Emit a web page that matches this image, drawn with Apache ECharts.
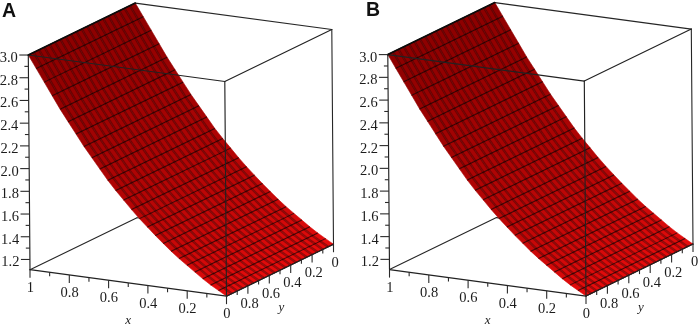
<!DOCTYPE html>
<html>
<head>
<meta charset="utf-8">
<style>html,body{margin:0;padding:0;background:#fff}#c{width:699px;height:327px}</style>
<script src="https://cdn.jsdelivr.net/npm/echarts@6/dist/echarts.min.js"></script>
</head>
<body>
<div id="c"></div>
<script>
// ---- data ----
const xGrid = [0,0.04,0.08,0.12,0.16,0.2,0.24,0.28,0.32,0.36,0.4,0.44,0.48,0.52,0.56,0.6,0.64,0.68,0.72,0.76,0.8,0.84,0.88,0.92,0.96,1];
const yGrid = [0,0.05,0.1,0.15,0.2,0.25,0.3,0.35,0.4,0.45,0.5,0.55,0.6,0.65,0.7,0.75,0.8,0.85,0.9,0.95,1];
const zSurfaceA = [1.11,1.15,1.19,1.235,1.285,1.335,1.385,1.44,1.5,1.56,1.625,1.69,1.76,1.835,1.91,1.99,2.08,2.17,2.26,2.36,2.46,2.56,2.67,2.78,2.89,3.0];
const zSurfaceB = [1.11,1.15,1.19,1.235,1.285,1.335,1.385,1.44,1.5,1.56,1.625,1.69,1.76,1.835,1.91,1.99,2.08,2.17,2.26,2.36,2.46,2.56,2.67,2.78,2.89,3.0];
const xTicks = [1,0.8,0.6,0.4,0.2,0];
const xTickLabels = ['1','0.8','0.6','0.4','0.2','0'];
const xMinor = [0.9,0.7,0.5,0.3,0.1];
const yTicks = [0.8,0.6,0.4,0.2,0];
const yTickLabels = ['0.8','0.6','0.4','0.2','0'];
const yMinor = [0.9,0.7,0.5,0.3,0.1];
const zTicks = [3.0,2.8,2.6,2.4,2.2,2.0,1.8,1.6,1.4,1.2];
const zTickLabels = ['3.0','2.8','2.6','2.4','2.2','2.0','1.8','1.6','1.4','1.2'];
const zMinor = [2.9,2.7,2.5,2.3,2.1,1.9,1.7,1.5,1.3];
const panelNames = ['A','B'];

// ---- oblique view of the box (screen units of each panel's hidden axes) ----
const Z0 = 1.11, Z1 = 3.0;
const view = {ox:30, oy:269.6, xx:196.5, xy:26.5, yx:107, yy:-52, zx:-1.7, zy:-215};
function project(x,y,z){
  const t = 1-x, s = 1-y, h = (z-Z0)/(Z1-Z0);
  return [view.ox+view.xx*t+view.yx*s+view.zx*h, view.oy+view.xy*t+view.yy*s+view.zy*h];
}
const backEdges = [
  [[1,1,Z0],[1,0,Z0]], [[1,0,Z0],[0,0,Z0]], [[1,0,Z1],[0,0,Z1]], [[0,0,Z0],[0,0,Z1]]
];
const frontEdges = [
  [[1,1,Z0],[1,1,Z1]], [[0,1,Z0],[0,1,Z1]], [[1,1,Z1],[0,1,Z1]], [[0,1,Z1],[0,0,Z1]],
  [[1,1,Z0],[0,1,Z0]], [[0,1,Z0],[0,0,Z0]]
];
const topEdge = [[[1,1,Z1],[1,0,Z1]]];

function mix(a,b,f){return a.map((v,i)=>Math.round(v+(b[i]-v)*f));}
const BRIGHT=[232,12,12], DARK=[140,0,0];
const SERIF='"Liberation Serif","Times New Roman",serif';

function segSeries(axis, edges, color, width, z){
  return {type:'custom',coordinateSystem:'cartesian2d',xAxisIndex:axis,yAxisIndex:axis,z,silent:true,animation:false,
    data:edges.map((e,i)=>[i,0]),
    renderItem(p,api){
      const e=edges[p.dataIndex], a=api.coord(project(...e[0])), b=api.coord(project(...e[1]));
      return {type:'line',shape:{x1:a[0],y1:a[1],x2:b[0],y2:b[1]},style:{stroke:color,lineWidth:width,lineCap:'round'}};
    }};
}
function surfaceSeries(axis, zs){
  const cells=[];
  for(let i=0;i<xGrid.length-1;i++)for(let j=0;j<yGrid.length-1;j++)cells.push([i,j]);
  return {type:'custom',coordinateSystem:'cartesian2d',xAxisIndex:axis,yAxisIndex:axis,z:3,silent:true,animation:false,
    data:cells,
    renderItem(p,api){
      const i=api.value(0), j=api.value(1);
      const P=(a,b)=>api.coord(project(xGrid[a],yGrid[b],zs[a]));
      const f=(xGrid[i]+xGrid[i+1])/2;
      const col=mix(BRIGHT,DARK,Math.pow(f,0.85));
      const c='rgb('+col.join(',')+')';
      return {type:'polygon',shape:{points:[P(i,j),P(i+1,j),P(i+1,j+1),P(i,j+1)]},style:{fill:c,stroke:c,lineWidth:0.6}};
    }};
}
function meshSeries(axis, zs){
  const rows=[];
  yGrid.slice(1,-1).forEach((v)=>rows.push(['y',v]));
  xGrid.forEach((v,i)=>rows.push(['x',i]));
  return {type:'custom',coordinateSystem:'cartesian2d',xAxisIndex:axis,yAxisIndex:axis,z:4,silent:true,animation:false,
    data:rows.map((r,i)=>[i,0]),
    renderItem(p,api){
      const r=rows[p.dataIndex];
      if(r[0]==='y'){
        const pts=xGrid.map((x,a)=>api.coord(project(x,r[1],zs[a])));
        return {type:'polyline',shape:{points:pts},style:{stroke:'rgba(50,0,0,0.42)',lineWidth:2.4,fill:'none'}};
      }
      const a=api.coord(project(xGrid[r[1]],0,zs[r[1]])), b=api.coord(project(xGrid[r[1]],1,zs[r[1]]));
      return {type:'line',shape:{x1:a[0],y1:a[1],x2:b[0],y2:b[1]},style:{stroke:'rgba(15,0,0,0.72)',lineWidth:1.1}};
    }};
}
function tickSeries(axis){
  const items=[];
  xTicks.forEach(v=>items.push({from:[v,1,Z0],dx:0,dy:8}));
  xMinor.forEach(v=>items.push({from:[v,1,Z0],dx:0,dy:4}));
  yTicks.forEach(v=>items.push({from:[0,v,Z0],dx:0,dy:8}));
  yMinor.forEach(v=>items.push({from:[0,v,Z0],dx:0,dy:4}));
  zTicks.forEach(v=>items.push({from:[1,1,v],dx:-9,dy:0}));
  zMinor.forEach(v=>items.push({from:[1,1,v],dx:-4,dy:0}));
  return {type:'custom',coordinateSystem:'cartesian2d',xAxisIndex:axis,yAxisIndex:axis,z:6,silent:true,animation:false,
    data:items.map((e,i)=>[i,0]),
    renderItem(p,api){
      const e=items[p.dataIndex], a=api.coord(project(...e.from));
      return {type:'line',shape:{x1:a[0],y1:a[1],x2:a[0]+e.dx,y2:a[1]+e.dy},style:{stroke:'#2a2a2a',lineWidth:1.1}};
    }};
}
function labelSeries(axis){
  const items=[];
  xTicks.forEach((v,i)=>items.push({from:[v,1,Z0],dx:0.3,dy:18.3,text:xTickLabels[i],align:'center'}));
  yTicks.forEach((v,i)=>items.push({from:[0,v,Z0],dx:1.7,dy:18.5,text:yTickLabels[i],align:'center'}));
  zTicks.forEach((v,i)=>items.push({from:[1,1,v],dx:-10.5,dy:3.2,text:zTickLabels[i],align:'right'}));
  items.push({from:[0.5,1,Z0],dx:0,dy:38,text:'x',align:'center',font:'italic 13px '+SERIF});
  items.push({from:[0,0.5,Z0],dx:1.5,dy:37.5,text:'y',align:'center',font:'italic 13px '+SERIF});
  return {type:'custom',coordinateSystem:'cartesian2d',xAxisIndex:axis,yAxisIndex:axis,z:7,silent:true,animation:false,
    data:items.map((e,i)=>[i,0]),
    renderItem(p,api){
      const e=items[p.dataIndex], a=api.coord(project(...e.from));
      return {type:'text',style:{x:a[0]+e.dx,y:a[1]+e.dy,text:e.text,textAlign:e.align,textVerticalAlign:'middle',
        font:e.font||('14.5px '+SERIF),fill:'#1c1c1c'}};
    }};
}
function panel(axis, zs){
  return [
    segSeries(axis,backEdges,'#262626',1.1,2),
    surfaceSeries(axis,zs),
    meshSeries(axis,zs),
    segSeries(axis,frontEdges,'#222222',1.15,5),
    segSeries(axis,topEdge,'#0c0c0c',1.7,5),
    tickSeries(axis),
    labelSeries(axis)
  ];
}
const axisBase={type:'value',show:false,min:0,scale:false};
const option={
  animation:false,
  backgroundColor:'#fff',
  grid:[{left:0,top:0.5,width:339,height:327},{left:359.5,top:0,width:339,height:327}],
  xAxis:[{...axisBase,max:339,gridIndex:0},{...axisBase,max:339,gridIndex:1}],
  yAxis:[{...axisBase,max:327,inverse:true,gridIndex:0},{...axisBase,max:327,inverse:true,gridIndex:1}],
  graphic:[
    {type:'text',left:2,top:2,style:{text:panelNames[0],font:'bold 19.5px "Liberation Sans",Arial,sans-serif',fill:'#111'}},
    {type:'text',left:366,top:0.5,style:{text:panelNames[1],font:'bold 19.5px "Liberation Sans",Arial,sans-serif',fill:'#111'}}
  ],
  series:[...panel(0,zSurfaceA),...panel(1,zSurfaceB)]
};
const chart=echarts.init(document.getElementById('c'),null,{renderer:'canvas'});
chart.setOption(option);
</script>
</body>
</html>
